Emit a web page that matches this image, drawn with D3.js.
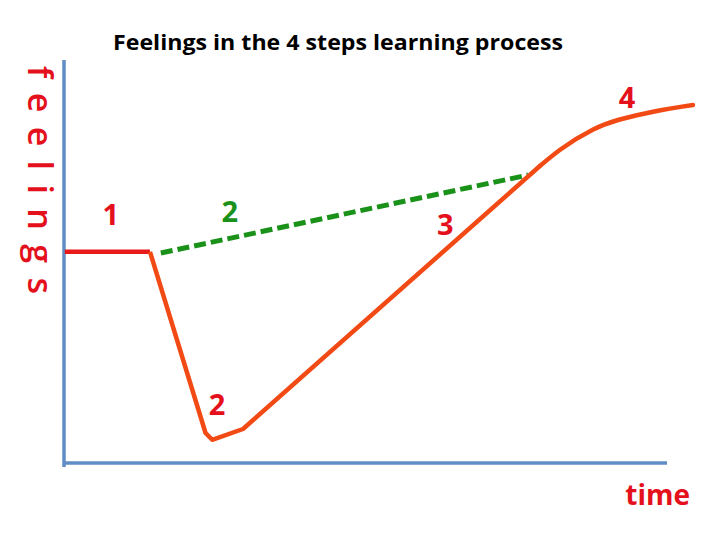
<!DOCTYPE html>
<html>
<head>
<meta charset="utf-8">
<script src="https://cdn.jsdelivr.net/npm/d3@7"></script>
<style>
  body { margin: 0; background: #fff; }
  text { font-family: "Open Sans", "DejaVu Sans", sans-serif; }
</style>
</head>
<body>
<script>
// time / feeling values, both on an arbitrary 0-10 scale
var flatTime = [0.03, 1.44];
var flatFeel = [5.28, 5.28];

var dipTime = [1.44, 2.36, 2.47, 2.98, 7.9];
var dipFeel = [5.28, 0.75, 0.58, 0.85, 7.43];

var riseTime = [7.9, 8.23, 8.77, 9.77, 10.43];
var riseFeel = [7.43, 7.83, 8.33, 8.78, 8.95];

var expectTime = [1.62, 7.7];
var expectFeel = [5.25, 7.2];

var stepLabels = ["1", "2", "3", "4", "2"];
var stepTime = [0.79, 2.76, 6.33, 9.34, 2.55];
var stepFeel = [5.95, 6.03, 5.7, 8.88, 1.2];
var stepColor = ["#e4101b", "#1a921a", "#e4101b", "#e4101b", "#e4101b"];

var w = 720, h = 540;

var x = d3.scaleLinear().domain([0, 10]).range([63, 667]);
var y = d3.scaleLinear().domain([0, 10]).range([463, 63]);

var svg = d3.select("body").append("svg")
  .attr("width", w)
  .attr("height", h);

function pts(t, f) {
  return t.map(function(d, i) { return [d, f[i]]; });
}

var line = d3.line()
  .x(function(d) { return x(d[0]); })
  .y(function(d) { return y(d[1]); });

var smooth = d3.line()
  .curve(d3.curveMonotoneX)
  .x(function(d) { return x(d[0]); })
  .y(function(d) { return y(d[1]); });

// axes, plain lines with no ticks
svg.append("line")
  .attr("x1", x(0) + 1).attr("x2", x(0) + 1)
  .attr("y1", 60).attr("y2", y(0) + 4)
  .attr("stroke", "#5f8dc4").attr("stroke-width", 3.5);
svg.append("line")
  .attr("x1", x(0)).attr("x2", x(10))
  .attr("y1", y(0)).attr("y2", y(0))
  .attr("stroke", "#5f8dc4").attr("stroke-width", 3.5);

// expected feeling (green dashed)
svg.append("path")
  .attr("d", line(pts(expectTime, expectFeel)))
  .attr("fill", "none")
  .attr("stroke", "#1a921a")
  .attr("stroke-width", 5)
  .attr("stroke-dasharray", "12,5");

svg.append("path")
  .attr("d", line(pts(flatTime, flatFeel)))
  .attr("fill", "none")
  .attr("stroke", "#e81a1a")
  .attr("stroke-width", 4.5);

svg.append("path")
  .attr("d", line(pts(dipTime, dipFeel)))
  .attr("fill", "none")
  .attr("stroke", "#f24a14")
  .attr("stroke-width", 4.5)
  .attr("stroke-linejoin", "round");

svg.append("path")
  .attr("d", smooth(pts(riseTime, riseFeel)))
  .attr("fill", "none")
  .attr("stroke", "#f24a14")
  .attr("stroke-width", 4.5)
  .attr("stroke-linecap", "round");

svg.selectAll(".step")
  .data(stepLabels)
  .enter().append("text")
    .attr("class", "step")
    .attr("x", function(d, i) { return x(stepTime[i]); })
    .attr("y", function(d, i) { return y(stepFeel[i]); })
    .attr("text-anchor", "middle")
    .attr("font-size", 29)
    .attr("font-weight", "bold")
    .attr("fill", function(d, i) { return stepColor[i]; })
    .text(function(d) { return d; });

svg.append("text")
  .attr("x", 338).attr("y", 50)
  .attr("text-anchor", "middle")
  .attr("font-size", 21)
  .attr("font-weight", "bold")
  .attr("textLength", 450)
  .attr("lengthAdjust", "spacingAndGlyphs")
  .text("Feelings in the 4 steps learning process");

svg.append("text")
  .attr("transform", "translate(28,66)rotate(90)")
  .attr("font-size", 34)
  .attr("font-weight", 600)
  .attr("fill", "#e4101b")
  .attr("textLength", 228)
  .attr("lengthAdjust", "spacing")
  .text("feelings");

svg.append("text")
  .attr("x", 690).attr("y", 505)
  .attr("text-anchor", "end")
  .attr("font-size", 28)
  .attr("font-weight", "bold")
  .attr("fill", "#e4101b")
  .text("time");
</script>
</body>
</html>
